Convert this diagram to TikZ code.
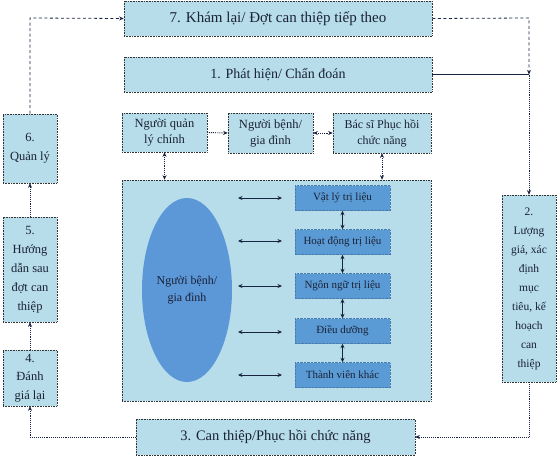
\documentclass[tikz,border=0pt]{standalone}
\usepackage{fontspec}
\setmainfont{Liberation Serif}
\usetikzlibrary{arrows.meta,shapes.geometric}
\definecolor{lightb}{HTML}{B7DCEA}
\definecolor{midb}{HTML}{5B9BD5}
\definecolor{ellb}{HTML}{5C97D8}
\definecolor{txt}{HTML}{1A2236}
\definecolor{navy}{HTML}{18233F}
\tikzset{
  lbox/.style={draw=black!80, densely dotted, line width=0.6pt, fill=lightb, text=txt, align=center, inner sep=0pt},
  sbox/.style={fill=midb, draw=midb!80!black, densely dotted, text=txt, inner sep=0pt, minimum width=95pt, minimum height=25pt, font=\fontsize{11}{12}\selectfont},
  tip/.style={-{Stealth[length=4.5pt,width=4pt]}},
  btip/.style={{Stealth[length=4.5pt,width=4pt]}-{Stealth[length=4.5pt,width=4pt]}},
  conn/.style={draw=navy, densely dotted, line width=0.9pt},
  dconn/.style={draw=navy, dash pattern=on 3pt off 2.5pt, line width=0.8pt},
  harr/.style={draw=navy, line width=0.8pt, btip},
}
\begin{document}
\begin{tikzpicture}[x=1pt,y=-1pt]
\useasboundingbox (0,0) rectangle (560,458);
% main horizontal boxes
\node[lbox, minimum width=308pt, minimum height=35pt, font=\fontsize{15}{16}\selectfont] (b7) at (278,18.5) {7. Khám lại/ Đợt can thiệp tiếp theo};
\node[lbox, minimum width=308pt, minimum height=35pt, font=\fontsize{14}{16}\selectfont] (b1) at (278,74.5) {1. Phát hiện/ Chẩn đoán};
\node[lbox, minimum width=279pt, minimum height=36pt, font=\fontsize{14.5}{16}\selectfont] (b3) at (275.5,437) {3. Can thiệp/Phục hồi chức năng};
% top row boxes
\node[lbox, minimum width=85pt, minimum height=39pt, font=\fontsize{12.5}{16}\selectfont] (pa) at (164.5,132.5) {Người quản\\lý chính};
\node[lbox, minimum width=85pt, minimum height=40pt, font=\fontsize{12.5}{16}\selectfont] (pb) at (270.5,133) {Người bệnh/\\gia đình};
\node[lbox, minimum width=98pt, minimum height=40pt, font=\fontsize{12}{16}\selectfont] (pc) at (382,133) {Bác sĩ Phục hồi\\chức năng};
% big box
\node[lbox, minimum width=309pt, minimum height=221pt] (big) at (276.5,290.5) {};
\node[ellipse, fill=ellb, inner sep=0pt, minimum width=90pt, minimum height=184pt, text=txt, align=center, font=\fontsize{12}{17}\selectfont] (ell) at (187,290) {Người bệnh/\\gia đình};
\node[sbox] (s1) at (342.5,198) {Vật lý trị liệu};
\node[sbox] (s2) at (342.5,242) {Hoạt động trị liệu};
\node[sbox] (s3) at (342.5,286) {Ngôn ngữ trị liệu};
\node[sbox] (s4) at (342.5,331) {Điều dưỡng};
\node[sbox] (s5) at (342.5,375) {Thành viên khác};
% side boxes
\node[lbox, minimum width=54pt, minimum height=69pt, font=\fontsize{12.5}{19}\selectfont] (b6) at (30,148.5) {6.\\Quản lý};
\node[lbox, minimum width=54pt, minimum height=105pt, font=\fontsize{12.5}{19}\selectfont] (b5) at (30,269.5) {5.\\Hướng\\dẫn sau\\đợt can\\thiệp};
\node[lbox, minimum width=54pt, minimum height=56pt, font=\fontsize{12.5}{18.5}\selectfont] (b4) at (30,378) {4.\\Đánh\\giá lại};
\node[lbox, minimum width=54pt, minimum height=187pt, font=\fontsize{11.5}{19}\selectfont] (b2) at (529,288.5) {2.\\Lượng\\giá, xác\\định\\mục\\tiêu, kế\\hoạch\\can\\thiệp};
% coordinates
\coordinate (j) at (529,74.5);
\coordinate (tl) at (30,18);
\coordinate (tr) at (529,18);
\coordinate (bl) at (30,437);
\coordinate (br) at (529,437);
\coordinate (a1) at (238,198); \coordinate (c1) at (282,198);
\coordinate (a2) at (238,241); \coordinate (c2) at (282,241);
\coordinate (a3) at (238,286); \coordinate (c3) at (282,286);
\coordinate (a4) at (238,332); \coordinate (c4) at (282,332);
\coordinate (a5) at (238,375); \coordinate (c5) at (282,375);
% outer cycle
\draw[conn, tip] (b3.west) -- (bl) -- (b4.south);
\draw[conn, tip] (b4.north) -- (b5.south);
\draw[conn, tip] (b5.north) -- (b6.south);
\draw[dconn, tip] (b6.north) -- (tl) -- (b7.west);
\draw[dconn, tip] (b7.east) -- (tr) -- (j);
\draw[draw=navy, line width=0.9pt] (b1.east) -- (j);
\draw[conn, tip] (j) -- (b2.north);
\draw[conn, tip] (b2.south) -- (br) -- (b3.east);
% top row links
\draw[conn, tip] (pa.east) -- (pb.west);
\draw[conn, btip] (pb.east) -- (pc.west);
\draw[conn, btip] (pa.south) -- (pa.south |- big.north);
\draw[conn, btip] (pc.south) -- (pc.south |- big.north);
% inner links
\draw[harr] (a1) -- (c1);
\draw[harr] (a2) -- (c2);
\draw[harr] (a3) -- (c3);
\draw[harr] (a4) -- (c4);
\draw[harr] (a5) -- (c5);
\draw[harr] (s1.south) -- (s2.north);
\draw[harr] (s2.south) -- (s3.north);
\draw[harr] (s3.south) -- (s4.north);
\draw[harr] (s4.south) -- (s5.north);
\end{tikzpicture}
\end{document}
